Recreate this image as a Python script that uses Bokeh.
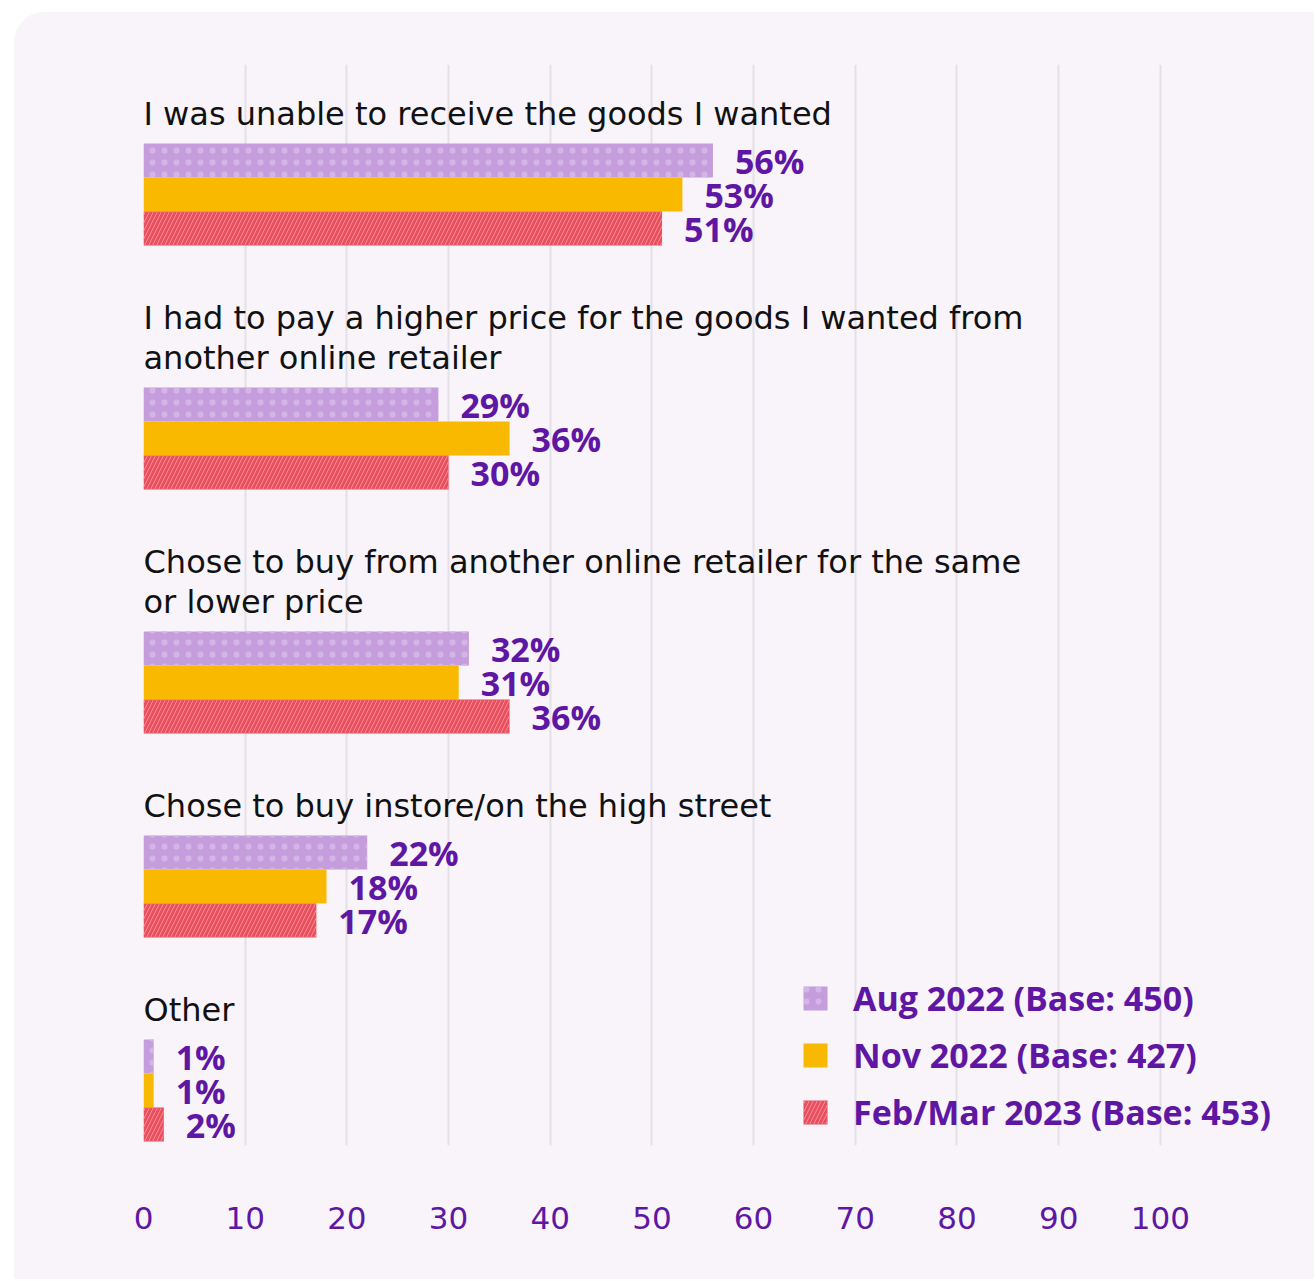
from bokeh.plotting import figure
from bokeh.models import ColumnDataSource, Range1d, FixedTicker, Legend, LegendItem
from bokeh.core.properties import value
from bokeh.embed import file_html
from bokeh.resources import INLINE

# ---------------- data ----------------
categories = [
    "I was unable to receive the goods I wanted",
    "I had to pay a higher price for the goods I wanted from\nanother online retailer",
    "Chose to buy from another online retailer for the same\nor lower price",
    "Chose to buy instore/on the high street",
    "Other",
]
aug_2022 = [56, 29, 32, 22, 1]
nov_2022 = [53, 36, 31, 18, 1]
feb_mar_2023 = [51, 30, 36, 17, 2]
series_names = ["Aug 2022 (Base: 450)", "Nov 2022 (Base: 427)", "Feb/Mar 2023 (Base: 453)"]
x_ticks = [0, 10, 20, 30, 40, 50, 60, 70, 80, 90, 100]

# ---------------- style ----------------
PURPLE = "#5f17a3"
CARD = "#f8f4fa"
GRID = "#e3e0e7"
FONT = "Open Sans"
FONT_REG = "DejaVu Sans"

# ---------------- layout (vertical positions in frame pixels) ----------------
LINE_H = 40
BAR_H = 34
FIRST_LABEL = 49
LABEL_TO_BARS = 30
BARS_TO_NEXT = 72

label_x, label_y, label_t = [], [], []
bar_rows = [[], [], []]
cursor = FIRST_LABEL
for cat in categories:
    lines = cat.split("\n")
    for i, ln in enumerate(lines):
        label_x.append(0)
        label_y.append(cursor + i * LINE_H)
        label_t.append(ln)
    bar_top = cursor + (len(lines) - 1) * LINE_H + LABEL_TO_BARS
    for k in range(3):
        bar_rows[k].append(bar_top + BAR_H / 2 + k * BAR_H)
    cursor = bar_top + 3 * BAR_H + BARS_TO_NEXT

FRAME_H = 1081
p = figure(
    width=1300, height=1267,
    x_range=Range1d(0, 113), y_range=Range1d(FRAME_H, 0),
    output_backend="svg", toolbar_location=None,
    y_axis_location=None,
    min_border_left=129, min_border_top=52, min_border_right=22, min_border_bottom=134,
)
p.margin = (12, 0, 0, 14)
p.border_fill_color = None
p.background_fill_color = None
p.outline_line_color = None
p.styles = {"background-color": CARD, "border-top-left-radius": "30px"}

p.xgrid.ticker = FixedTicker(ticks=x_ticks)
p.xgrid.grid_line_color = GRID
p.xgrid.grid_line_width = 2
p.ygrid.visible = False

ax = p.xaxis[0]
ax.ticker = FixedTicker(ticks=x_ticks)
ax.axis_line_color = None
ax.major_tick_line_color = None
ax.minor_tick_line_color = None
ax.major_label_text_color = PURPLE
ax.major_label_text_font = FONT_REG
ax.major_label_text_font_size = "31px"
ax.major_label_standoff = 55

series = [aug_2022, nov_2022, feb_mar_2023]
styles = [
    dict(fill_color="#c59ddc", hatch_pattern="dot", hatch_color="#d4b6e6", hatch_scale=12, hatch_weight=1),
    dict(fill_color="#f9b900"),
    dict(fill_color="#ea4f5d", hatch_pattern="right_diagonal_line", hatch_color="#f28c95", hatch_scale=8, hatch_weight=1),
]
renderers = []
for k in range(3):
    src = ColumnDataSource(dict(
        y=bar_rows[k], right=series[k],
        lab=[f"{v}%" for v in series[k]],
    ))
    r = p.hbar(y="y", right="right", left=0, height=BAR_H, source=src,
               line_color=None, **styles[k])
    renderers.append(r)
    p.text(x="right", y="y", text="lab", source=src, x_offset=22,
           text_font=value(FONT), text_font_style="bold", text_font_size="34px",
           text_color=PURPLE, text_baseline="middle", text_align="left")

p.text(x=label_x, y=label_y, text=label_t, text_font=value(FONT_REG),
       text_font_size="32px", text_color="#111111",
       text_baseline="middle", text_align="left")

legend = Legend(
    items=[LegendItem(label=series_names[k], renderers=[renderers[k]]) for k in range(3)],
    location=(657, 10),
    orientation="vertical",
    glyph_width=30, glyph_height=30, label_height=30,
    label_standoff=23, spacing=11, padding=0, margin=0,
    border_line_color=None, background_fill_alpha=0,
    label_text_font=FONT, label_text_font_style="bold", label_text_font_size="34px",
    label_text_color=PURPLE,
)
p.add_layout(legend)

open("out.html", "w").write(file_html(p, INLINE))
